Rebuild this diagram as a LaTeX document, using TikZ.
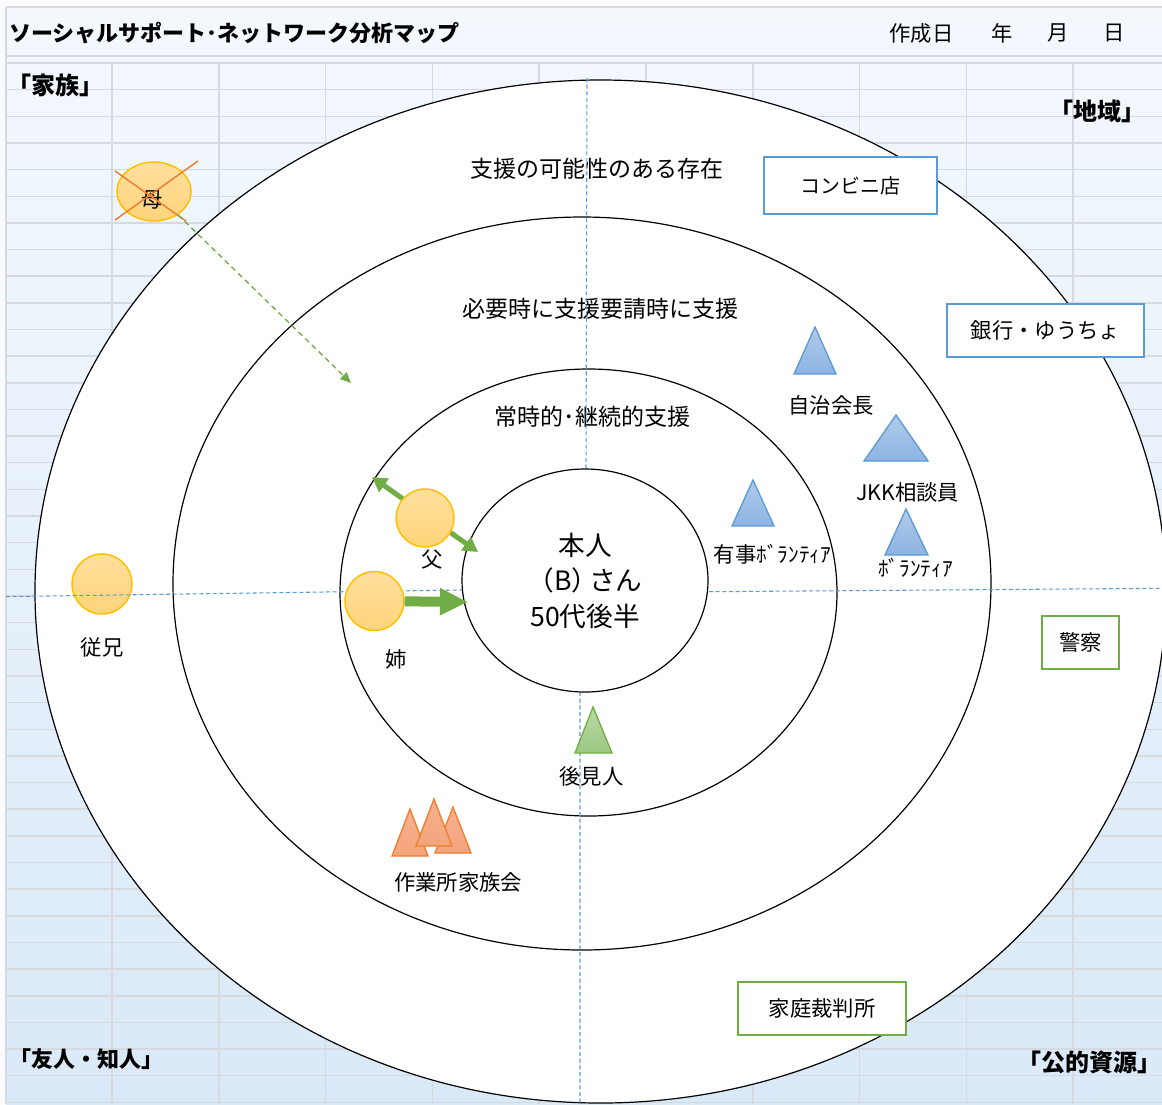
\documentclass[tikz,border=0pt]{standalone}
\usepackage{fontspec}
\setmainfont{Noto Sans CJK JP}
\usetikzlibrary{shapes.geometric,arrows.meta}
\definecolor{gridc}{HTML}{D6D9DD}
\definecolor{sheetTop}{HTML}{F3F8FD}
\definecolor{sheetBot}{HTML}{DAE9F8}
\definecolor{dashblue}{HTML}{5B9BD5}
\definecolor{persBorder}{HTML}{FFC000}
\definecolor{persTop}{HTML}{FFDF9F}
\definecolor{persBot}{HTML}{FFD479}
\definecolor{accOr}{HTML}{ED7D31}
\definecolor{accGr}{HTML}{70AD47}
\definecolor{triBlueTop}{HTML}{B0CBEA}
\definecolor{triBlueBot}{HTML}{8DB3E2}
\definecolor{triGrTop}{HTML}{BADAA5}
\definecolor{triGrBot}{HTML}{9CC783}
\definecolor{triOrTop}{HTML}{F6B28E}
\definecolor{triOrBot}{HTML}{F3A47C}
\begin{document}
\begin{tikzpicture}[x=0.75pt,y=-0.75pt,
  txt/.style={inner sep=0pt, font=\fontsize{16pt}{19pt}\selectfont},
  ringtxt/.style={inner sep=0pt, font=\fontsize{17.25pt}{20pt}\selectfont},
  corner/.style={inner sep=0pt, font=\bfseries\fontsize{#1}{19pt}\selectfont},
  ring/.style={draw=black, fill=white, line width=0.9pt},
  person/.style={circle, draw=persBorder, line width=1.1pt, top color=persTop, bottom color=persBot, inner sep=0pt},
  infobox/.style={rectangle, draw=#1, fill=white, line width=1.3pt, inner sep=0pt, font=\fontsize{16pt}{19pt}\selectfont},
  guide/.style={draw=dashblue, line width=0.8pt, dash pattern=on 3pt off 2pt},
  gridline/.style={draw=gridc, line width=1.1pt},
  tri/.style n args={3}{draw=#1, top color=#2, bottom color=#3, line width=1pt}
]
\useasboundingbox (0,0) rectangle (1162,1104);
% sheet background
\fill[sheetTop!50!white] (0,0) rectangle (1162,1104);
\shade[top color=sheetTop, bottom color=sheetBot] (6,7) rectangle (1162,1104);
\foreach \k in {0,...,39} \path[gridline] (6,63+26.65*\k) -- (1162,63+26.65*\k);
\path[gridline] (6,7) -- (1162,7) (6,56) -- (1162,56) (6,7) -- (6,1104);
\foreach \k in {0,...,9} \path[gridline] (112+106.8*\k,63) -- (112+106.8*\k,1104);
% header texts
\node[anchor=west, inner sep=0pt, font=\bfseries\fontsize{16.5pt}{19pt}\selectfont] (title) at (9,33) {ソーシャルサポート･ネットワーク分析マップ};
\node[txt] (dSaku) at (921.5,33) {作成日};
\node[txt] (dYear) at (1002,33) {年};
\node[txt] (dMonth) at (1058,33) {月};
\node[txt] (dDay) at (1114,33) {日};
\node[corner=18pt] (kazoku) at (55.5,85) {「家族」};
\node[corner=18pt] (chiiki) at (1097.5,111) {「地域」};
\node[corner=16.5pt] (yujin) at (86,1059) {「友人・知人」};
\node[corner=18pt] (kouteki) at (1089,1062) {「公的資源」};
% rings
\draw[ring] (600.5,591.5) ellipse [x radius=565.5, y radius=511.5];
\draw[ring] (582,583.5) ellipse [x radius=409, y radius=366.5];
\draw[ring] (588.5,592.5) ellipse [x radius=248.5, y radius=223.5];
\node[ringtxt] (t1) at (596.5,169) {支援の可能性のある存在};
\node[ringtxt] (t2) at (600,309) {必要時に支援要請時に支援};
\node[ringtxt] (t3) at (592.5,417) {常時的･継続的支援};
% mother (crossed out)
\node[person, ellipse, minimum width=55.5pt, minimum height=44.25pt] (mo) at (154,191.5) {};
\node[txt] (moL) at (152.5,200) {母};
\draw[accOr, line width=1.1pt] (115,171) -- (186,221) (115,220) -- (198,161);
\coordinate (moTip) at (351,383);
\draw[accGr, line width=1pt, dash pattern=on 4pt off 3pt, -{Triangle[length=8pt,width=7pt]}] (mo) -- (moTip);
% cousin
\node[person, minimum size=45pt] (itoko) at (102,584) {};
\node[txt] (itokoL) at (102,647) {従兄};
% guide lines
\coordinate (gT0) at (587,78); \coordinate (gT1) at (586,470);
\coordinate (gB0) at (580,692); \coordinate (gB1) at (580,1104);
\coordinate (gL0) at (6,596.6); \coordinate (gL1) at (462,590);
\coordinate (gR0) at (709,591.7); \coordinate (gR1) at (1162,588.3);
\path[guide] (gT0) -- (gT1) (gB0) -- (gB1) (gL0) -- (gL1) (gR0) -- (gR1);
% boxes
\node[infobox=dashblue, minimum width=129.75pt, minimum height=42.75pt, font=\fontsize{15pt}{18pt}\selectfont] (conv) at (850.5,185.5) {コンビニ店};
\node[infobox=dashblue, minimum width=147.75pt, minimum height=39.75pt] (bank) at (1045.5,330.5) {銀行・ゆうちょ};
\node[infobox=accGr, minimum width=57.75pt, minimum height=39.75pt] (police) at (1080.5,642.5) {警察};
\node[infobox=accGr, minimum width=126pt, minimum height=39.75pt] (court) at (822,1008.5) {家庭裁判所};
% the person
\node[ellipse, draw=black, fill=white, line width=0.9pt, minimum width=184.5pt, minimum height=167.25pt, inner sep=0pt, align=center, font=\fontsize{20pt}{26.6pt}\selectfont] (me) at (585,580.5) {本人\\（B）\kern-0.35em さん\\50代後半};
% father
\coordinate (faA) at (372,477); \coordinate (faB) at (478,552);
\draw[accGr, line width=3.75pt, {Triangle[length=11pt,width=12pt]}-{Triangle[length=11pt,width=12pt]}] (faA) -- (faB);
\node[person, minimum size=43.5pt] (fa) at (425,518) {};
\node[txt] (faL) at (432,560) {父};
% sister
\node[person, minimum size=44.25pt] (ane) at (374.5,601) {};
\coordinate (aneTip) at (468,602);
\draw[accGr, line width=7.5pt, -{Triangle[length=21pt,width=19pt]}] (ane) -- (aneTip);
\node[txt] (aneL) at (396,659) {姉};
% triangles
\path[tri={dashblue}{triBlueTop}{triBlueBot}] (815,327) -- (836,374) -- (794,374) -- cycle;
\node[txt] (jichi) at (831,405) {自治会長};
\path[tri={dashblue}{triBlueTop}{triBlueBot}] (896,415) -- (928,461) -- (864,461) -- cycle;
\node[txt] (jkk) at (907.5,492) {JKK相談員};
\path[tri={dashblue}{triBlueTop}{triBlueBot}] (906,509) -- (928,555) -- (885,555) -- cycle;
\node[txt] (vol) at (915.5,568) {ﾎﾞﾗﾝﾃｨｱ};
\path[tri={dashblue}{triBlueTop}{triBlueBot}] (753,480) -- (774,526) -- (732,526) -- cycle;
\node[txt] (yuji) at (772.5,554) {有事ﾎﾞﾗﾝﾃｨｱ};
\path[tri={accGr}{triGrTop}{triGrBot}] (593,707) -- (612,753) -- (575,753) -- cycle;
\node[txt] (kouken) at (591.5,776) {後見人};
\path[tri={accOr}{triOrTop}{triOrBot}] (410,809) -- (428,856) -- (392,856) -- cycle;
\path[tri={accOr}{triOrTop}{triOrBot}] (453,807) -- (471,853) -- (435,853) -- cycle;
\path[tri={accOr}{triOrTop}{triOrBot}] (434,799) -- (452,846) -- (416,846) -- cycle;
\node[txt] (sagyo) at (458,882) {作業所家族会};
\end{tikzpicture}
\end{document}
